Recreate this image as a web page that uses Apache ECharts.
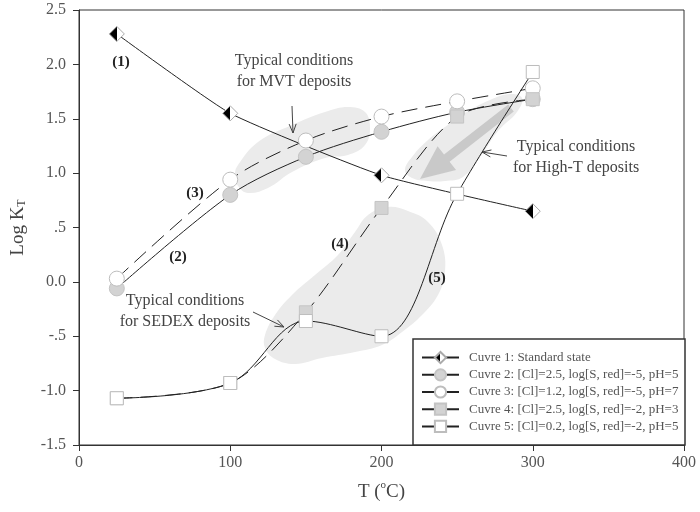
<!DOCTYPE html>
<html><head><meta charset="utf-8">
<script src="https://cdn.jsdelivr.net/npm/echarts@6/dist/echarts.min.js"></script>
<style>html,body{margin:0;padding:0;background:#fff}#c{width:700px;height:512px}</style>
</head><body><div id="c"></div>
<script>
// ---- data ----
var temps1 = [25, 100, 200, 300];
var curve1 = [2.28, 1.55, 0.98, 0.65];
var temps = [25, 100, 150, 200, 250, 300];
var curve2 = [-0.06, 0.80, 1.15, 1.38, 1.56, 1.68];
var curve3 = [0.03, 0.94, 1.30, 1.52, 1.66, 1.78];
var curve4 = [-1.07, -0.93, -0.28, 0.68, 1.52, 1.68];
var curve5 = [-1.07, -0.93, -0.36, -0.50, 0.81, 1.93];
var seriesNames = [
  'Cuvre 1: Standard state',
  'Cuvre 2: [Cl]=2.5, log[S, red]=-5, pH=5',
  'Cuvre 3: [Cl]=1.2, log[S, red]=-5, pH=7',
  'Cuvre 4: [Cl]=2.5, log[S, red]=-2, pH=3',
  'Cuvre 5: [Cl]=0.2, log[S, red]=-2, pH=5'
];
var yTickValues = [-1.5, -1, -0.5, 0, 0.5, 1, 1.5, 2, 2.5];
var yTickLabels = ['-1.5', '-1.0', '-.5', '0.0', '.5', '1.0', '1.5', '2.0', '2.5'];
var xTickLabels = ['0', '100', '200', '300', '400'];

function pairs(xs, ys) { return xs.map(function (x, i) { return [x, ys[i]]; }); }

var FONT = 'Liberation Serif';
var chart = echarts.init(document.getElementById('c'));

var halfDiamond = new echarts.graphic.LinearGradient(0, 0, 1, 0, [
  {offset: 0, color: '#000'}, {offset: 0.5, color: '#000'},
  {offset: 0.5, color: '#fff'}, {offset: 1, color: '#fff'}]);

function lineSeries(name, data, symbol, size, fill, border, dashed, smooth) {
  return {
    name: name, type: 'line', data: data, smooth: smooth,
    symbol: symbol, symbolSize: size, showAllSymbol: true,
    lineStyle: {color: '#222', width: 1, type: dashed ? [16, 8] : 'solid'},
    itemStyle: {color: fill, borderColor: border, borderWidth: 1},
    emphasis: {disabled: true}, z: 2
  };
}

// arrow helpers (decorations)
function thinArrow(x1, y1, x2, y2) {
  var dx = x2 - x1, dy = y2 - y1, L = Math.sqrt(dx * dx + dy * dy);
  var ux = dx / L, uy = dy / L, px = -uy, py = ux;
  var h = 9, w = 3.5;
  return {
    type: 'group', z: 5, children: [
      {type: 'line', shape: {x1: x1, y1: y1, x2: x2, y2: y2}, style: {stroke: '#444', lineWidth: 1}},
      {type: 'polyline', shape: {points: [[x2 - ux * h + px * w, y2 - uy * h + py * w], [x2, y2], [x2 - ux * h - px * w, y2 - uy * h - py * w]]},
        style: {stroke: '#444', lineWidth: 1, fill: null}}
    ]
  };
}
function bigArrow(x1, y1, x2, y2, sw, hl, hw) {
  var dx = x2 - x1, dy = y2 - y1, L = Math.sqrt(dx * dx + dy * dy);
  var ux = dx / L, uy = dy / L, px = -uy, py = ux;
  var bx = x2 - ux * hl, by = y2 - uy * hl;
  return {
    type: 'polygon', z: 1, shape: {points: [
      [x1 + px * sw, y1 + py * sw], [bx + px * sw, by + py * sw], [bx + px * hw, by + py * hw], [x2, y2],
      [bx - px * hw, by - py * hw], [bx - px * sw, by - py * sw], [x1 - px * sw, y1 - py * sw]]},
    style: {fill: '#c9c9c9', stroke: null}
  };
}
function blob(points) {
  return {type: 'polygon', z: 0, shape: {points: points, smooth: 0.4}, style: {fill: '#ebebeb', stroke: null}};
}
function label(text, x, y, bold) {
  return {type: 'text', z: 5, x: x, y: y, style: {text: text, font: (bold ? 'bold 15px ' : '16px ') + FONT,
    fill: bold ? '#222' : '#444', align: 'center', verticalAlign: 'middle', lineHeight: 21}};
}

var option = {
  animation: false,
  backgroundColor: '#fff',
  grid: {left: 79, right: 16, top: 10, bottom: 67, show: true, borderColor: '#333', borderWidth: 1},
  xAxis: {
    type: 'value', min: 0, max: 400, interval: 100,
    axisLine: {onZero: false, lineStyle: {color: '#333'}}, axisTick: {show: true, length: 6, lineStyle: {color: '#333'}},
    splitLine: {show: false},
    axisLabel: {margin: 10, color: '#555', fontFamily: FONT, fontSize: 16,
      formatter: function (v) { return xTickLabels[Math.round(v / 100)]; }},
    name: '{a|T (}{s|o}{a|C)}', nameLocation: 'middle', nameGap: 35,
    nameTextStyle: {rich: {a: {fontFamily: FONT, fontSize: 19, color: '#444', verticalAlign: 'bottom', lineHeight: 22},
      s: {fontFamily: FONT, fontSize: 11, color: '#444', verticalAlign: 'top', lineHeight: 22, padding: [0, 0, 10, 0]}}}
  },
  yAxis: {
    type: 'value', min: -1.5, max: 2.5, interval: 0.5,
    axisLine: {show: true, onZero: false, lineStyle: {color: '#333'}}, axisTick: {show: true, length: 6, lineStyle: {color: '#333'}},
    splitLine: {show: false},
    axisLabel: {margin: 13, color: '#555', fontFamily: FONT, fontSize: 16,
      formatter: function (v) {
        for (var i = 0; i < yTickValues.length; i++) if (Math.abs(yTickValues[i] - v) < 1e-6) return yTickLabels[i];
        return '';
      }},
    name: '{a|Log K}{s|T}', nameLocation: 'middle', nameGap: 50,
    nameTextStyle: {rich: {a: {fontFamily: FONT, fontSize: 19, color: '#444', lineHeight: 22},
      s: {fontFamily: FONT, fontSize: 12, color: '#444', lineHeight: 22, padding: [8, 0, 0, 0]}}}
  },
  legend: {
    orient: 'vertical', left: 421, top: 351, itemWidth: 37, itemHeight: 14, itemGap: 4,
    padding: 0, selectedMode: false,
    textStyle: {fontFamily: FONT, fontSize: 13, color: '#555', padding: [0, 0, 0, 5]},
    data: seriesNames
  },
  series: [
    lineSeries(seriesNames[0], pairs(temps1, curve1), 'diamond', [15, 15], halfDiamond, '#aaa', false, 0.15),
    lineSeries(seriesNames[1], pairs(temps, curve2), 'circle', 15, '#d3d3d3', '#c4c4c4', false, 0.3),
    lineSeries(seriesNames[2], pairs(temps, curve3), 'circle', 15, '#ffffff', '#bdbdbd', true, 0.3),
    lineSeries(seriesNames[3], pairs(temps, curve4), 'rect', 13, '#d3d3d3', '#c4c4c4', true, 0.3),
    lineSeries(seriesNames[4], pairs(temps, curve5), 'rect', 13, '#ffffff', '#bdbdbd', false, 0.35)
  ],
  graphic: [
    blob([[238,165],[258,142],[292,125],[325,112],[348,107],[365,112],[370,128],[365,145],[348,155],[325,158],[292,172],[268,188],[248,193],[238,186],[235,174]]),
    blob([[522,98],[517,112],[498,131],[480,157],[463,177],[445,181],[428,181],[412,178],[405,170],[412,157],[428,140],[445,127],[465,113],[490,100],[510,94]]),
    blob([[265,335],[275,315],[292,295],[315,275],[338,255],[355,232],[368,215],[388,207],[408,211],[428,222],[442,245],[445,272],[438,295],[422,315],[402,332],[382,345],[355,352],[322,358],[295,364],[275,359],[265,348]]),
    bigArrow(511, 108, 420, 179, 4.5, 34, 15),
    {type: 'rect', z: 3, shape: {x: 413, y: 339, width: 272, height: 106}, style: {fill: '#fff', stroke: '#333', lineWidth: 1.5}},
    label('(1)', 121, 62, true),
    label('(2)', 178, 257, true),
    label('(3)', 195, 193, true),
    label('(4)', 340, 244, true),
    label('(5)', 437, 278, true),
    label('Typical conditions\nfor MVT deposits', 294, 71, false),
    label('Typical conditions\nfor High-T deposits', 576, 157, false),
    label('Typical conditions\nfor SEDEX deposits', 185, 311, false),
    thinArrow(292, 106, 293, 133),
    thinArrow(507, 156, 482, 152),
    thinArrow(253, 312, 284, 327)
  ]
};
chart.setOption(option);
</script>
</body></html>
